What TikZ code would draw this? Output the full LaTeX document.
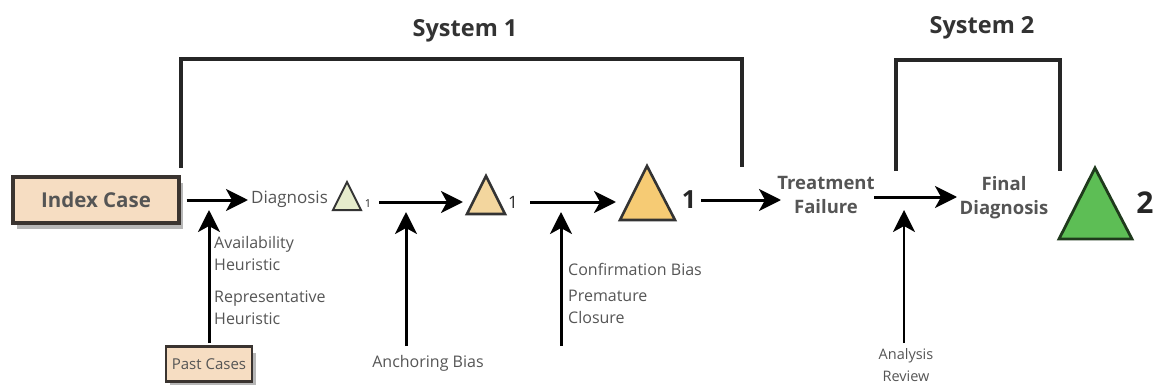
\documentclass[tikz,border=0pt]{standalone}
\usepackage{fontspec}
\setmainfont{Open Sans}
\usetikzlibrary{arrows.meta,shadows}
\definecolor{peach}{HTML}{F6DDC2}
\definecolor{boxline}{HTML}{3A3430}
\definecolor{txt}{HTML}{555555}
\definecolor{tri1}{HTML}{E6ECCC}
\definecolor{tri2}{HTML}{F3D69E}
\definecolor{tri3}{HTML}{F6CB74}
\definecolor{tri4}{HTML}{5DBE55}
\definecolor{tri4line}{HTML}{1F3A1C}
\tikzset{
  casebox/.style={draw=boxline, line width=3.2pt, fill=peach, text=txt, inner sep=0pt,
    drop shadow={shadow xshift=4pt, shadow yshift=-6pt, opacity=0.4, fill=black!70}},
  flow/.style={line width=3pt, -{Stealth[length=22pt,width=22pt,inset=6pt]}},
  bracket/.style={line width=3.4pt, draw=black!85},
  lbl/.style={text=txt, font=\fontsize{16}{22}\selectfont, align=left, inner sep=0pt},
  tri/.style={draw=black!80, line width=2.6pt, line join=miter},
  idx/.style={text=black!85, inner sep=0pt},
  big/.style={text=txt, font=\bfseries\fontsize{18.5}{24}\selectfont, align=center, inner sep=0pt},
  sys/.style={text=black!80, font=\bfseries\fontsize{23.5}{24}\selectfont}
}
\begin{document}
\begin{tikzpicture}[x=1pt,y=-1pt]
\useasboundingbox (0,0) rectangle (1153,385);
% main boxes
\node[casebox, minimum width=166pt, minimum height=46pt, font=\bfseries\fontsize{20.5}{22}\selectfont] (index) at (96,200) {Index Case};
\node[casebox, minimum width=86pt, minimum height=35pt, font=\fontsize{15}{16}\selectfont, line width=2.6pt] (past) at (209,364) {Past Cases};
% diagnosis
\node[text=txt, font=\fontsize{17}{18}\selectfont, anchor=west, inner sep=0pt] (diag) at (251,199) {Diagnosis};
\filldraw[tri, fill=tri1, line width=2pt] (333,210) -- (347,182) -- (361,210) -- cycle;
\node[idx, font=\fontsize{11}{12}\selectfont] (s1) at (368,204) {1};
% triangle 2
\filldraw[tri, fill=tri2] (467,214) -- (486,176) -- (505,214) -- cycle;
\node[idx, font=\fontsize{17}{18}\selectfont] (s2) at (513,202) {1};
% triangle 3
\filldraw[tri, fill=tri3] (620,220) -- (647,166) -- (675,220) -- cycle;
\node[idx, font=\bfseries\fontsize{25}{26}\selectfont] (s3) at (689,200) {1};
% treatment / final
\node[big] (treat) at (826,195) {Treatment\\Failure};
\node[big] (final) at (1004,198) {Final\\Diagnosis};
% triangle 4
\filldraw[draw=tri4line, line width=2.8pt, fill=tri4] (1059,239) -- (1095,168) -- (1132,239) -- cycle;
\node[idx, font=\bfseries\fontsize{30}{32}\selectfont] (s4) at (1145,203) {2};
% main flow arrows
\coordinate (a0e) at (248,200);
\draw[flow] (index.east) ++(6,0) -- (a0e);
\coordinate (a1s) at (379,202);
\coordinate (a1e) at (463,202);
\draw[flow] (a1s) -- (a1e);
\coordinate (a2s) at (530,202);
\coordinate (a2e) at (616,202);
\draw[flow] (a2s) -- (a2e);
\coordinate (a3s) at (701,200);
\coordinate (a3e) at (781,200);
\draw[flow] (a3s) -- (a3e);
\coordinate (a4s) at (874,197);
\coordinate (a4e) at (957,197);
\draw[flow] (a4s) -- (a4e);
% vertical arrows
\coordinate (v0t) at (209,210);
\draw[flow] (past.north) ++(0,-2) -- (v0t);
\coordinate (v1b) at (406,346);
\coordinate (v1t) at (406,212);
\draw[flow] (v1b) -- (v1t);
\coordinate (v2b) at (561,346);
\coordinate (v2t) at (561,212);
\draw[flow] (v2b) -- (v2t);
\coordinate (v3b) at (904,343);
\coordinate (v3t) at (904,210);
\draw[flow, line width=2.6pt] (v3b) -- (v3t);
% labels (base anchor = baseline of last line)
\node[lbl, anchor=base west] (avail) at (214,270) {Availability\\Heuristic};
\node[lbl, anchor=base west] (repr) at (214,324) {Representative\\Heuristic};
\node[lbl, anchor=base] (anch) at (428,367) {Anchoring Bias};
\node[lbl, anchor=base west] (conf) at (568,275) {Confirmation Bias};
\node[lbl, anchor=base west] (prem) at (568,323) {Premature\\Closure};
\node[lbl, align=center, font=\fontsize{14.5}{22}\selectfont, anchor=base] (anal) at (906,381) {Analysis\\Review};
% brackets
\coordinate (b1a) at (181,168);
\coordinate (b1b) at (742,167);
\draw[bracket] (b1a) |- (462,59) -| (b1b);
\node[sys] (sys1) at (465,31) {System 1};
\coordinate (b2a) at (896,171);
\coordinate (b2b) at (1060,171);
\draw[bracket] (b2a) |- (978,60) -| (b2b);
\node[sys] (sys2) at (982,28) {System 2};
\end{tikzpicture}
\end{document}
